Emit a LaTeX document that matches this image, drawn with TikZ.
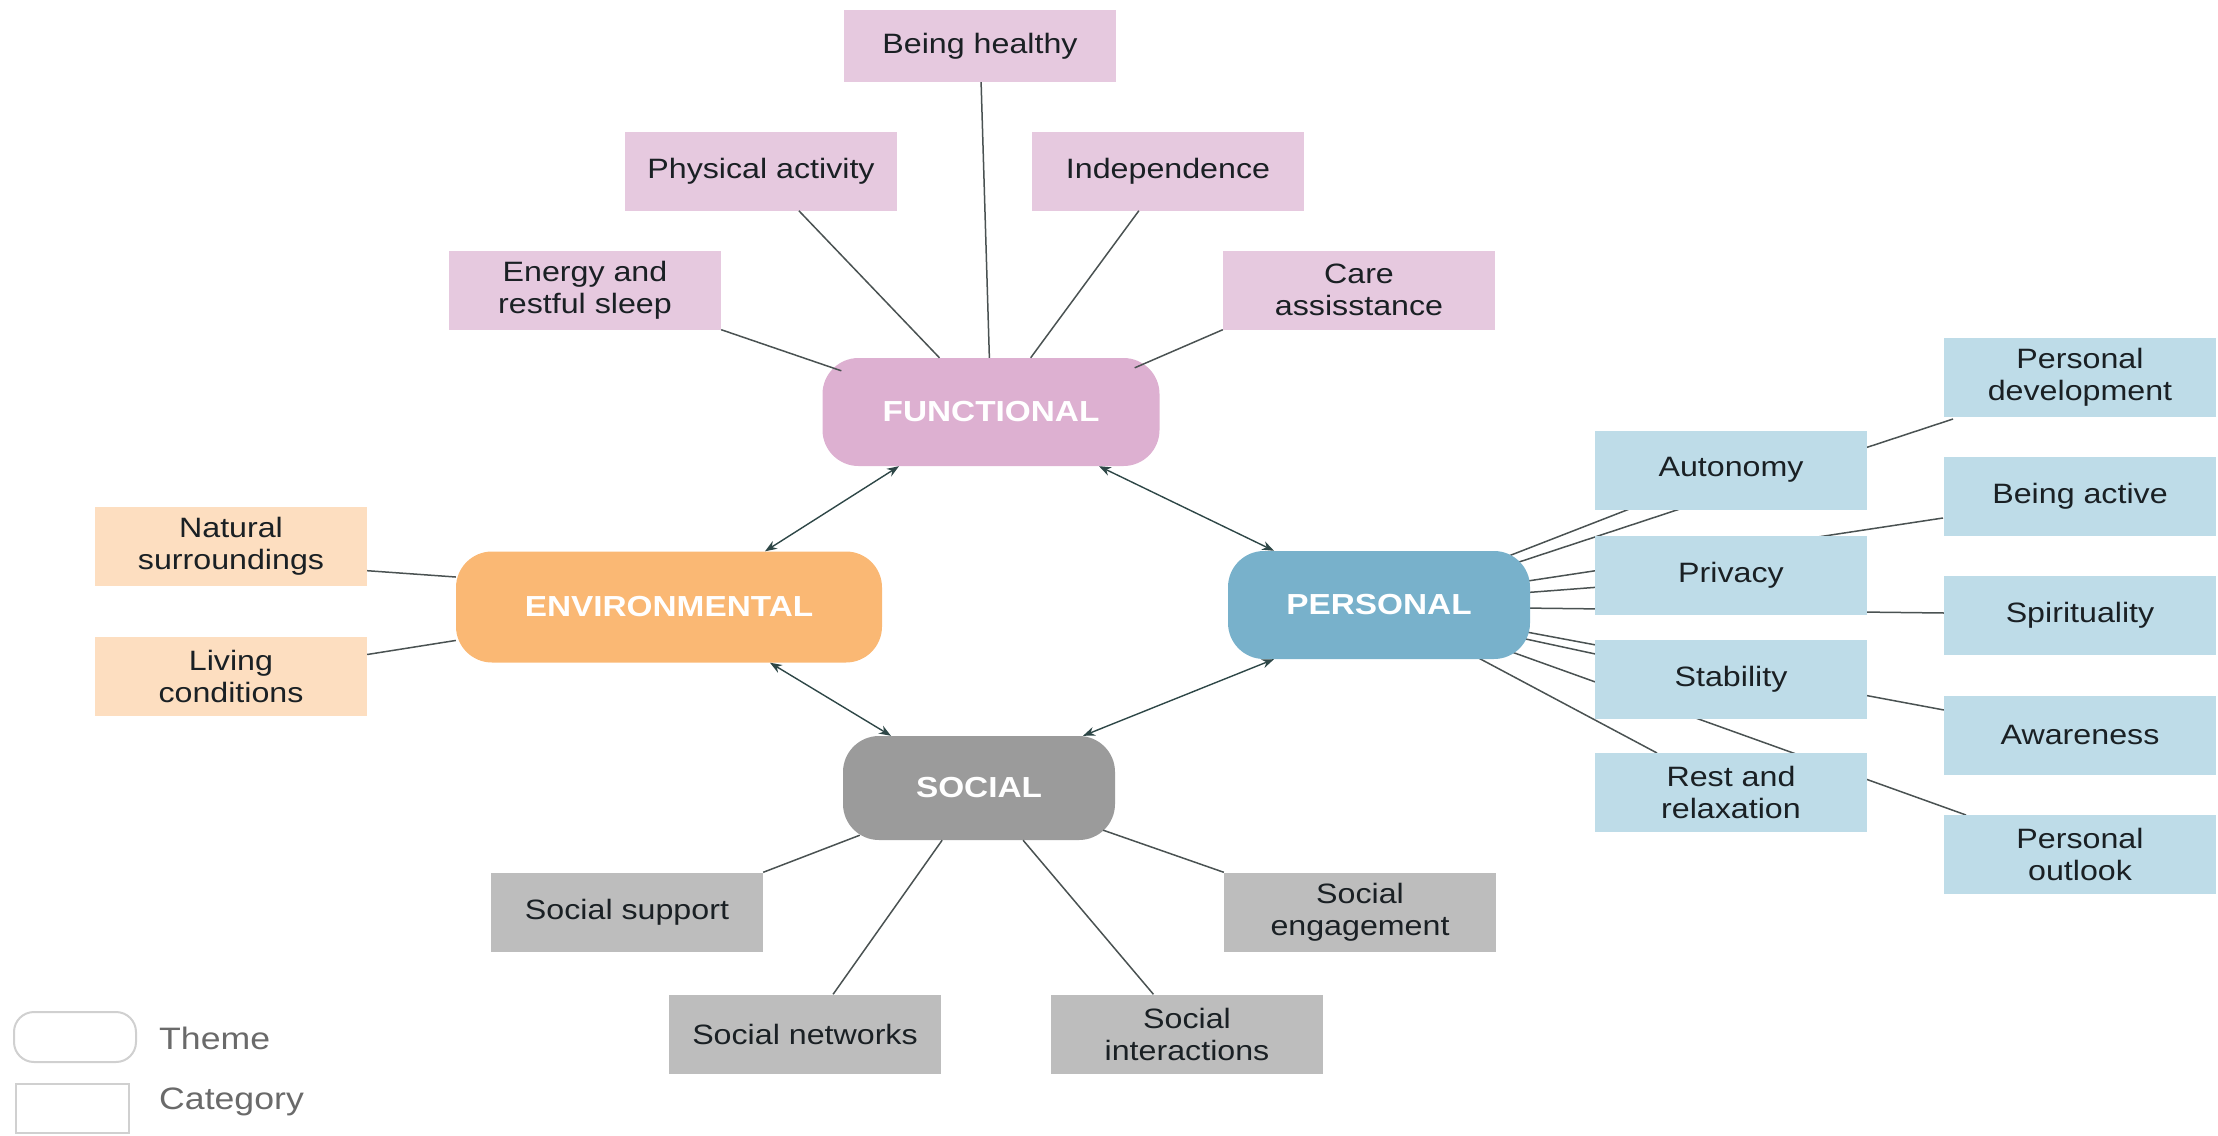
\documentclass[tikz,border=0pt]{standalone}
\usepackage{fontspec}
\setmainfont{Liberation Sans}[FakeStretch=1.15]
\usetikzlibrary{calc,arrows.meta,backgrounds}
\definecolor{fcat}{HTML}{E6C9DF}
\definecolor{fth}{HTML}{DDB0D1}
\definecolor{ecat}{HTML}{FDDEC0}
\definecolor{eth}{HTML}{FAB874}
\definecolor{pcat}{HTML}{BEDCE8}
\definecolor{pth}{HTML}{78B1CB}
\definecolor{scat}{HTML}{BDBDBD}
\definecolor{sth}{HTML}{9B9B9B}
\definecolor{txt}{HTML}{1A2024}
\definecolor{lnk}{HTML}{4A5252}
\definecolor{arr}{HTML}{2E4747}
\definecolor{leg}{HTML}{D0D0D0}
\definecolor{legt}{HTML}{6A6A6A}
\tikzset{
 cat/.style={rectangle, minimum width=272pt, minimum height=79pt, inner sep=0pt, align=center, text=txt, font=\fontsize{28}{32}\selectfont},
 theme/.style={rectangle, rounded corners=36pt, inner sep=0pt, text=white, font=\bfseries\fontsize{29}{34}\selectfont},
 link/.style={draw=lnk, line width=1.5pt},
 rel/.style={draw=arr, line width=1.4pt, {Stealth[length=12pt,width=9pt]}-{Stealth[length=12pt,width=9pt]}},
 legtext/.style={anchor=west, inner sep=0pt, text=legt, font=\fontsize{31}{36}\selectfont},
}
\begin{document}
\begin{tikzpicture}[x=1pt,y=-1pt]
\useasboundingbox (0,0) rectangle (2218,1135);
% themes
\node[theme, fill=fth, minimum width=337pt, minimum height=108pt] (func) at (991,412) {FUNCTIONAL};
\node[theme, fill=eth, minimum width=426pt, minimum height=111pt] (env) at (669,607) {ENVIRONMENTAL};
\node[theme, fill=pth, minimum width=302pt, minimum height=108pt] (pers) at (1379,605) {PERSONAL};
\node[theme, fill=sth, minimum width=272pt, minimum height=104pt] (soc) at (979,788) {SOCIAL};
% functional categories
\node[cat, fill=fcat, minimum height=72pt] (bh) at (980,46) {Being healthy};
\node[cat, fill=fcat] (pa) at (761,171) {Physical activity};
\node[cat, fill=fcat] (ind) at (1168,171) {Independence};
\node[cat, fill=fcat] (ers) at (585,290) {Energy and\\restful sleep};
\node[cat, fill=fcat] (ca) at (1359,290) {Care\\assisstance};
% environmental categories
\node[cat, fill=ecat] (nat) at (231,546) {Natural\\surroundings};
\node[cat, fill=ecat] (liv) at (231,676) {Living\\conditions};
% social categories
\node[cat, fill=scat] (ssup) at (627,912) {Social support};
\node[cat, fill=scat] (seng) at (1360,912) {Social\\engagement};
\node[cat, fill=scat] (snet) at (805,1034) {Social networks};
\node[cat, fill=scat] (sint) at (1187,1034) {Social\\interactions};
% personal categories
\node[cat, fill=pcat] (auto) at (1731,470) {Autonomy};
\node[cat, fill=pcat] (priv) at (1731,575) {Privacy};
\node[cat, fill=pcat] (stab) at (1731,679) {Stability};
\node[cat, fill=pcat] (rest) at (1731,792) {Rest and\\relaxation};
\node[cat, fill=pcat] (pdev) at (2080,377) {Personal\\development};
\node[cat, fill=pcat] (bact) at (2080,496) {Being active};
\node[cat, fill=pcat] (spir) at (2080,615) {Spirituality};
\node[cat, fill=pcat] (awar) at (2080,735) {Awareness};
\node[cat, fill=pcat] (pout) at (2080,854) {Personal\\outlook};
% connectors
\draw[link] (bh) -- (func);
\draw[link] (pa) -- (func);
\draw[link] (ind) -- (func);
\draw[link] (ers.south east) -- ($(func.north west)+(19,13)$);
\draw[link] (ca.south west) -- ($(func.north east)+(-25,10)$);
\draw[link] ($(nat.south east)+(0,-15)$) -- ($(env.west)+(0,-30)$);
\draw[link] (liv) -- (env);
\draw[link] (ssup.north east) -- ($(soc.south west)+(17,-5)$);
\draw[link] (seng.north west) -- ($(soc.south east)+(-12,-10)$);
\draw[link] (snet) -- (soc);
\draw[link] (sint) -- (soc);
\begin{scope}[on background layer]
\draw[link] ($(pers)+(127,-48)$) -- ($(auto)+(-81,31)$);
\draw[link] ($(pers)+(137,-42)$) -- ($(pdev)+(-127,42)$);
\draw[link] ($(pers)+(142,-23)$) -- ($(bact)+(-137,22)$);
\draw[link] ($(pers)+(142,-12)$) -- ($(priv)+(-131,12)$);
\draw[link] ($(pers)+(142,3)$) -- ($(spir)+(-136,-2)$);
\draw[link] ($(pers)+(142,26)$) -- ($(awar)+(-136,-25)$);
\draw[link] ($(pers)+(142,33)$) -- ($(stab)+(-131,-24)$);
\draw[link] ($(pers)+(130,46)$) -- ($(pout)+(-114,-39)$);
\draw[link] ($(pers)+(92,49)$) -- ($(rest)+(-74,-39)$);
\end{scope}
\draw[rel] ($(func.south)+(-92,0)$) -- ($(env.north)+(96,0)$);
\draw[rel] ($(func.south)+(108,0)$) -- ($(pers.north)+(-105,0)$);
\draw[rel] ($(env.south)+(101,0)$) -- ($(soc.north)+(-88,0)$);
\draw[rel] ($(pers.south)+(-105,0)$) -- ($(soc.north)+(104,0)$);
% legend
\node[draw=leg, line width=2pt, rounded corners=20pt, minimum width=122pt, minimum height=50pt, inner sep=0pt] (lth) at (75,1037) {};
\node[legtext] (ltht) at (159,1038) {Theme};
\node[draw=leg, line width=2pt, minimum width=113pt, minimum height=49pt, inner sep=0pt] (lcat) at (72,1108) {};
\node[legtext] (lcatt) at (159,1102) {Category};
\end{tikzpicture}
\end{document}
